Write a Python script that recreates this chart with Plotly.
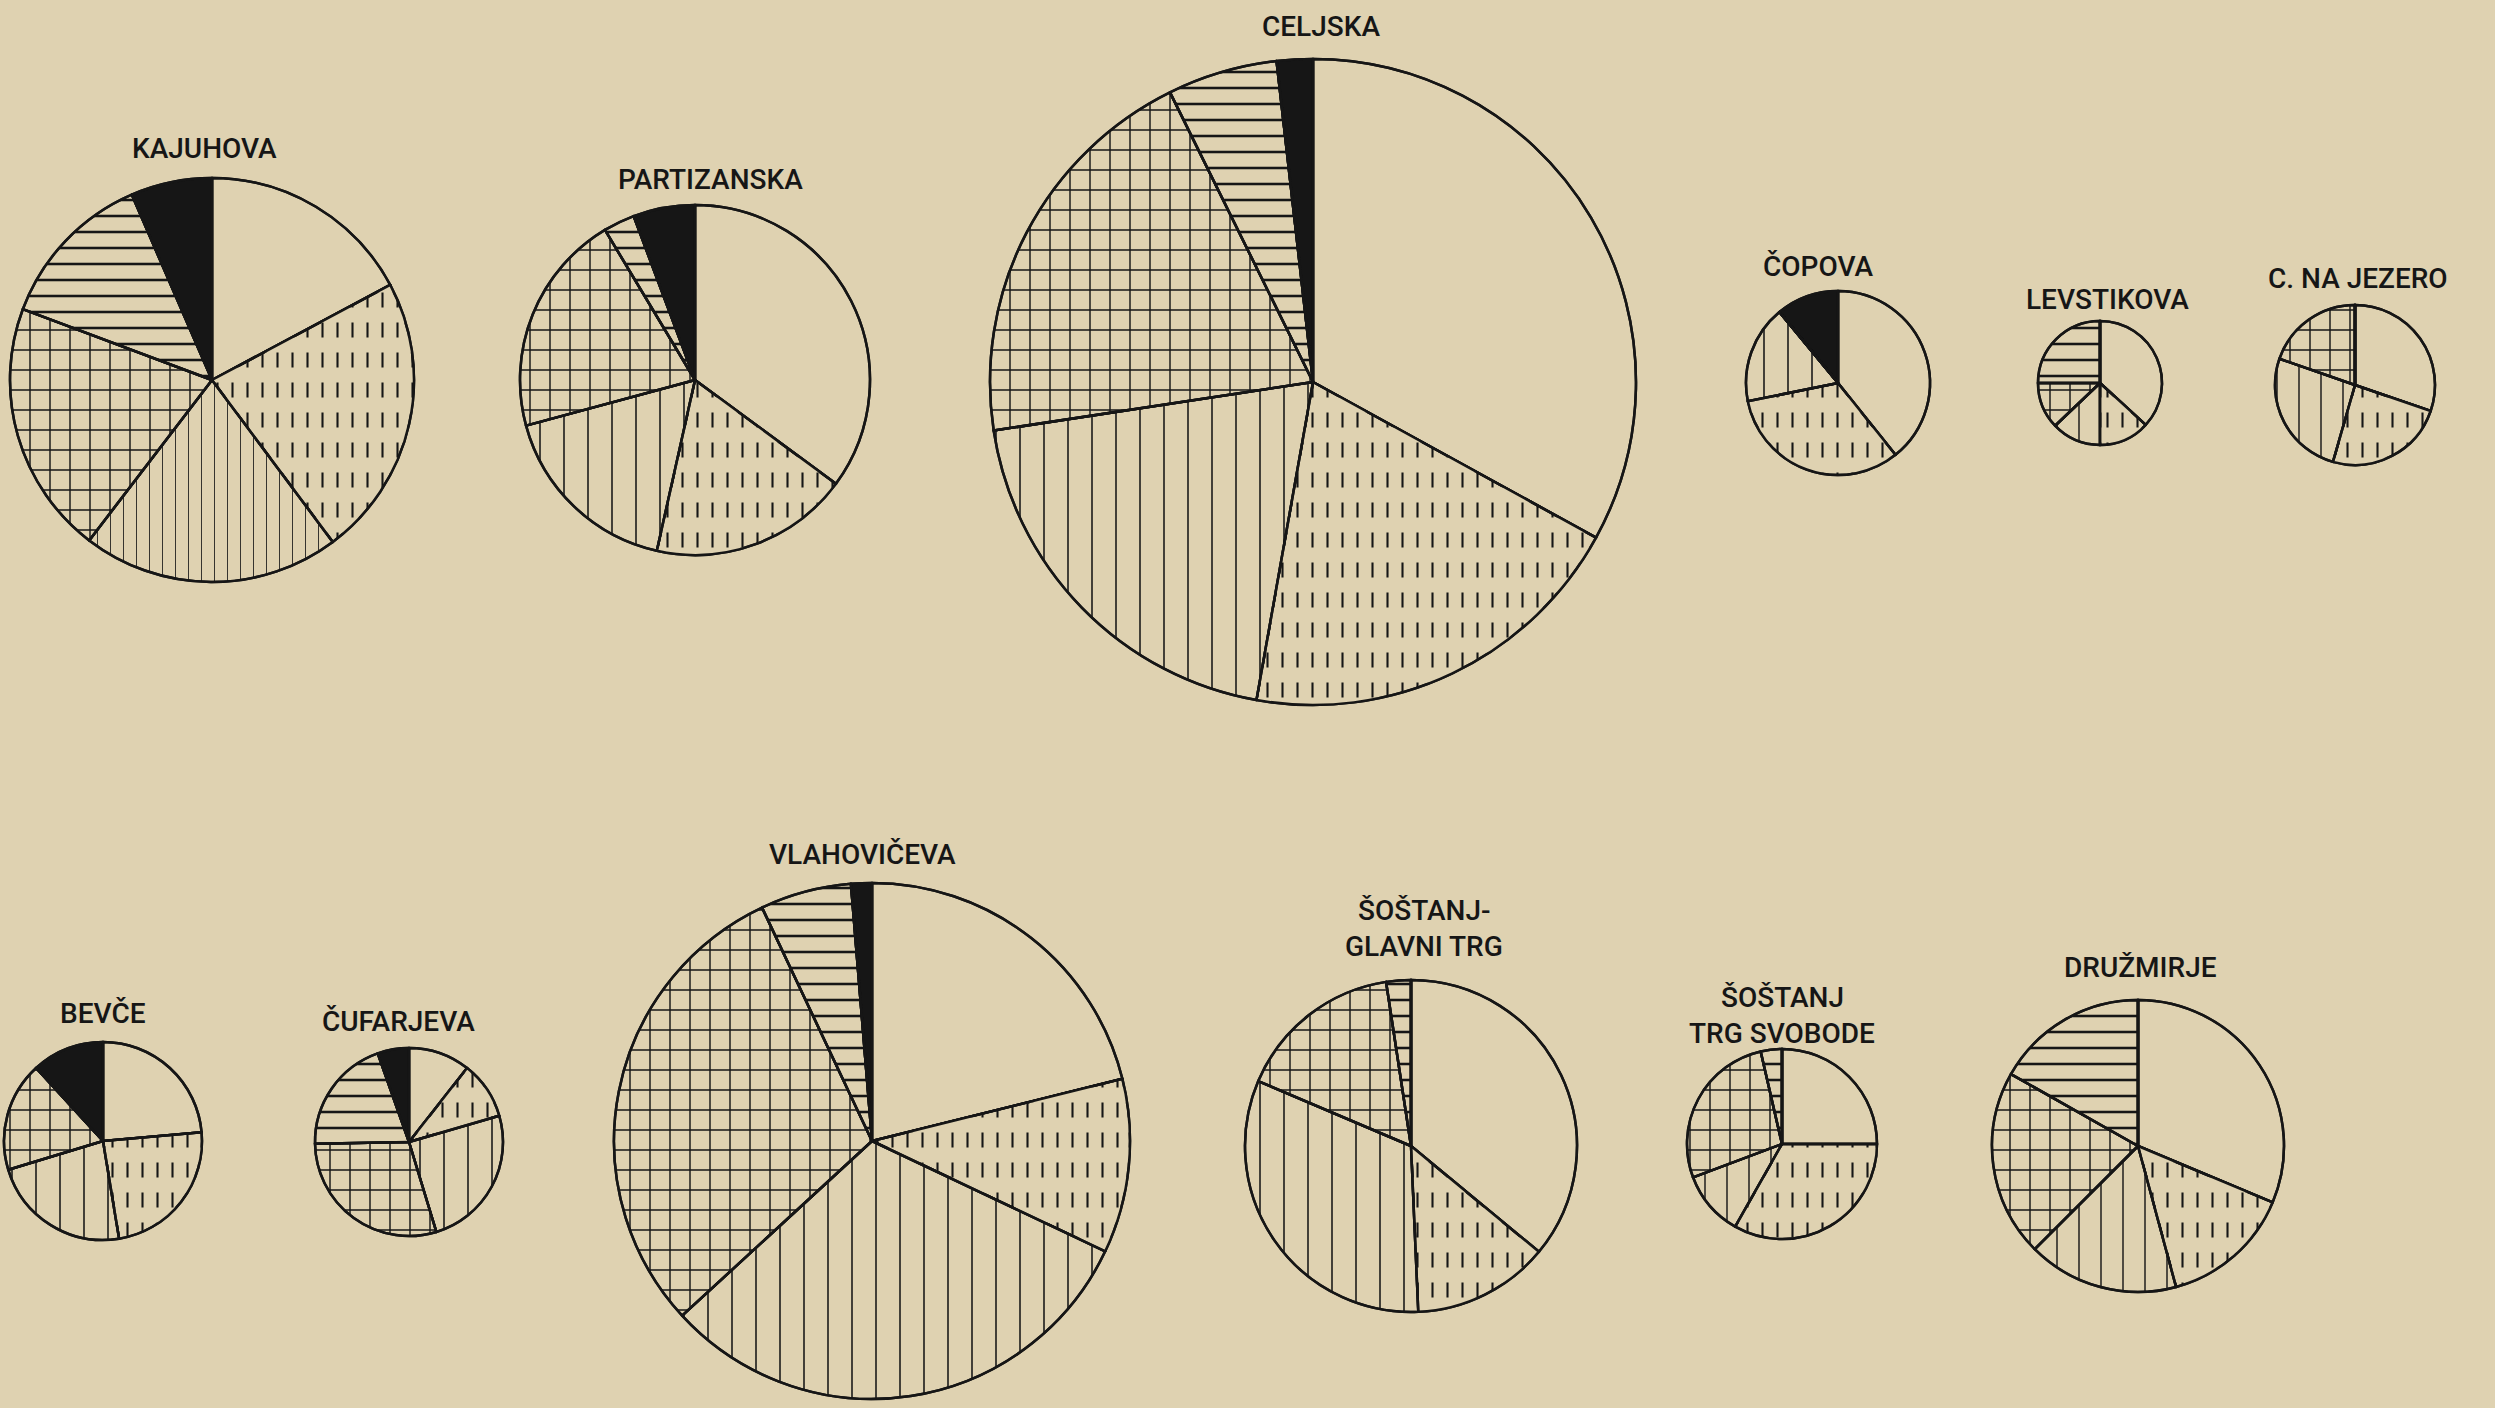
import plotly.graph_objects as go

# ---------------- data ----------------
categories = ["Kategorija 1", "Kategorija 2", "Kategorija 3",
              "Kategorija 4", "Kategorija 5", "Kategorija 6"]

names = ["KAJUHOVA", "PARTIZANSKA", "CELJSKA", "ČOPOVA", "LEVSTIKOVA",
         "C. NA JEZERO", "BEVČE", "ČUFARJEVA", "VLAHOVIČEVA",
         "ŠOŠTANJ-|GLAVNI TRG", "ŠOŠTANJ|TRG SVOBODE", "DRUŽMIRJE"]

kajuhova = [17.2, 22.6, 20.6, 20.3, 12.8, 6.5]
partizanska = [35.1, 18.4, 17.3, 20.6, 2.9, 5.7]
celjska = [33.0, 19.8, 19.8, 20.1, 5.5, 1.8]
copova = [39.3, 32.6, 17.2, 0, 0, 11.0]
levstikova = [36.8, 13.2, 12.9, 12.1, 25.0, 0]
c_na_jezero = [30.3, 24.2, 25.9, 19.7, 0, 0]
bevce = [23.6, 23.8, 22.9, 17.9, 0, 11.8]
cufarjeva = [10.6, 9.9, 24.8, 29.4, 19.9, 5.4]
vlahoviceva = [21.1, 10.9, 31.1, 29.8, 5.7, 1.3]
sostanj_glavni = [36.0, 13.3, 32.1, 16.2, 2.4, 0]
sostanj_svobode = [25.0, 33.2, 11.1, 27.1, 3.6, 0]
druzmirje = [31.3, 14.5, 16.7, 20.7, 16.8, 0]

series = [kajuhova, partizanska, celjska, copova, levstikova, c_na_jezero,
          bevce, cufarjeva, vlahoviceva, sostanj_glavni, sostanj_svobode,
          druzmirje]

# ---------------- layout (pixels) ----------------
W, H = 2495, 1408
PAPER = "#dfd2b1"
INK = "#161616"

# center x, center y, radius
geom = [(212, 380, 202), (695, 380, 175), (1313, 382, 323),
        (1838, 383, 92), (2100, 383, 62), (2355, 385, 80),
        (103, 1141, 99), (409, 1142, 94), (872, 1141, 258),
        (1411, 1146, 166), (1782, 1144, 95), (2138, 1146, 146)]
# title line positions (x, y of first line centre)
title_pos = [(204, 148), (710, 180), (1321, 27), (1818, 266), (2107, 299),
             (2358, 278), (103, 1013), (398, 1021), (862, 854),
             (1424, 910), (1782, 997), (2140, 967)]
LINE_GAP = 36
vert_size = [13, 24, 24, 24, 22, 22, 24, 24, 24, 24, 22, 22]

fig = go.Figure()
for i, vals in enumerate(series):
    cx, cy, r = geom[i]
    dom = dict(x=[(cx - r) / W, (cx + r) / W],
               y=[1 - (cy + r) / H, 1 - (cy - r) / H])
    label = names[i].replace("|", " ")
    # base pie with hatch patterns
    fig.add_trace(go.Pie(
        labels=categories, values=vals, sort=False, direction="clockwise",
        rotation=0, domain=dom, textinfo="none", showlegend=False,
        hoverinfo="label+percent", name=label,
        marker=dict(
            colors=[PAPER, PAPER, PAPER, PAPER, PAPER, INK],
            line=dict(color=INK, width=2.5),
            pattern=dict(
                shape=["", "|", "|", "+", "-", ""],
                size=[10, 15, vert_size[i], 20, 16, 10],
                solidity=[0.1, 0.14, 0.065, 0.14, 0.16, 0.1],
                fgcolor=INK, bgcolor=PAPER, fillmode="replace"),
        ),
    ))
    # overlay that breaks the vertical lines of the 2nd category into dashes
    fig.add_trace(go.Pie(
        labels=categories, values=vals, sort=False, direction="clockwise",
        rotation=0, domain=dom, textinfo="none", showlegend=False,
        hoverinfo="skip",
        marker=dict(
            colors=["rgba(0,0,0,0)"] * 6,
            line=dict(color=INK, width=2.5),
            pattern=dict(
                shape=["", "-", "", "", "", ""],
                size=[10, 30, 10, 10, 10, 10],
                solidity=[0.1, 0.5, 0.1, 0.1, 0.1, 0.1],
                fgcolor=PAPER, bgcolor="rgba(0,0,0,0)", fillmode="replace"),
        ),
    ))

annotations = []
for i, name in enumerate(names):
    tx, ty = title_pos[i]
    for k, line in enumerate(name.split("|")):
        annotations.append(dict(
            text=line, x=tx / W, y=1 - (ty + k * LINE_GAP) / H,
            xref="paper", yref="paper",
            xanchor="center", yanchor="middle", showarrow=False,
            font=dict(family="Roboto, Liberation Sans, sans-serif", size=28,
                      color=INK, weight=500)))

fig.update_layout(
    width=W, height=H, margin=dict(l=0, r=0, t=0, b=0),
    paper_bgcolor=PAPER, plot_bgcolor=PAPER,
    annotations=annotations, showlegend=False,
)

fig.write_html(
    "out.html",
    config={"displayModeBar": False},
    post_script="document.body.style.margin='0px';"
                "document.body.style.padding='0px';"
                "document.body.style.overflow='hidden';",
)
